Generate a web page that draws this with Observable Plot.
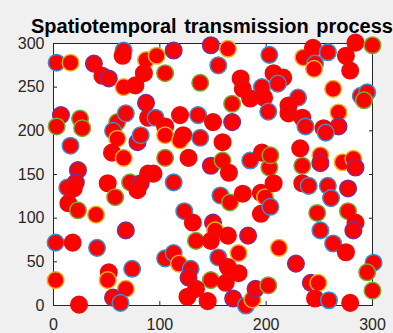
<!DOCTYPE html>
<html><head><meta charset="utf-8">
<script src="https://cdn.jsdelivr.net/npm/d3@7"></script>
<script src="https://cdn.jsdelivr.net/npm/@observablehq/plot@0.6"></script>
<style>
html,body{margin:0;padding:0;background:#f0f0f0;overflow:hidden;width:393px;height:333px;}
#wrap{position:relative;width:393px;height:333px;}
#title{position:absolute;left:31px;top:16px;white-space:nowrap;font:bold 20px "Liberation Sans",Arial,sans-serif;word-spacing:2px;color:#000;line-height:20px;}
#chart{position:absolute;left:0;top:0;}
</style></head><body>
<div id="wrap"><div id="chart"></div><div id="title">Spatiotemporal transmission process</div></div>
<script>
const titleText = "Spatiotemporal transmission process";
const xTicks = [0, 100, 200, 300];
const yTicks = [0, 50, 100, 150, 200, 250, 300];
const xValues = [3,16,38,66,65,46,52,66,77,87,97,85,7,3,25,27,60,68,87,89,113,148,164,155,105,138,176,178,196,203,168,185,198,202,96,119,136,150,168,105,235,244,258,275,284,300,246,245,279,207,216,211,263,230,221,289,295,292,221,234,237,268,268,254,16,56,60,55,66,79,82,23,13,21,19,14,23,40,51,58,72,82,79,89,105,119,122,138,159,105,127,148,159,165,185,196,203,94,113,157,166,178,195,199,123,131,150,195,204,256,204,232,234,251,251,272,282,284,207,234,240,258,277,261,248,277,284,68,2,18,41,52,51,74,2,68,56,63,24,152,164,183,134,148,105,113,118,155,174,129,127,148,162,174,164,126,134,145,169,181,187,190,202,282,251,263,275,212,228,301,295,242,249,300,246,259,279];
const yValues = [278,278,277,292,286,263,260,250,252,281,286,266,218,205,214,203,210,220,232,215,292,298,294,275,266,255,260,248,250,287,231,237,238,222,215,218,218,210,210,205,284,295,290,286,301,298,277,271,269,266,261,254,248,238,229,240,244,235,220,215,205,221,205,203,183,200,191,175,169,187,195,155,135,141,134,117,109,104,140,124,141,140,132,151,195,189,195,192,187,169,169,160,166,152,166,175,158,151,141,126,118,128,129,124,108,95,95,105,113,198,172,180,160,172,163,164,168,158,140,140,137,137,134,123,106,108,95,86,72,72,66,38,29,42,29,19,9,3,1,86,80,80,74,74,54,60,48,55,60,42,32,29,26,37,44,10,19,5,8,0,7,19,23,86,86,71,61,66,48,49,38,26,26,17,8,6,3];
const edgeGroup = [
  "b","y","p","b","n","n","p","y","n","y",
  "y","n","p","g","g","g","g","b","p","n",
  "p","p","y","b","g","g","n","n","b","b",
  "g","n","n","b","b","n","b","n","p","n",
  "y","n","b","n","n","g","b","y","n","n",
  "n","b","y","b","n","b","b","g","n","n",
  "b","y","p","n","b","b","y","n","y","p",
  "b","p","b","p","n","n","g","y","n","g",
  "g","p","n","n","y","y","n","b","n","g",
  "n","p","g","n","b","n","g","n","b","b",
  "g","n","n","y","b","n","p","n","b","b",
  "g","n","g","y","p","y","y","p","n","n",
  "b","b","p","b","g","g","n","p","b","n",
  "b","n","y","b","y","y","p","b","n","y",
  "n","p","g","n","b","b","y","b","y","b",
  "p","g","n","n","n","n","n","n","p","b",
  "y","p","g","p","b","b","n","y","p","b",
  "g","p","y","g","n","b","n"
];
const edgeColors = {b: "#3b8fd4", y: "#EDB120", p: "#7E2F8E", g: "#77AC30", n: "#e41010"};

const points = xValues.map((x, i) => ({x, y: yValues[i], e: edgeGroup[i] || "n"}));

const chart = Plot.plot({
  width: 393, height: 333,
  marginTop: 43, marginBottom: 28, marginLeft: 53, marginRight: 21,
  x: {domain: [0, 300]},
  y: {domain: [0, 300]},
  style: {background: "transparent", color: "#262626", fontFamily: "'Liberation Sans', Arial, sans-serif", fontSize: "16px"},
  marks: [
    Plot.frame({fill: "white", stroke: null}),
    Plot.axisX(xTicks, {anchor: "bottom", tickSize: -4, tickPadding: 17, label: null}),
    Plot.axisX(xTicks, {anchor: "top", tickSize: -4, tickFormat: () => "", label: null}),
    Plot.axisY(yTicks, {anchor: "left", tickSize: -4, tickPadding: 13, label: null}),
    Plot.axisY(yTicks, {anchor: "right", tickSize: -4, tickFormat: () => "", label: null}),
    Plot.frame({stroke: "#262626", strokeWidth: 1}),
    Plot.dot(points, {x: "x", y: "y", r: 8.3, fill: "#ff0000", stroke: d => edgeColors[d.e], strokeWidth: 1.5})
  ]
});
document.getElementById("chart").appendChild(chart);
</script>
</body></html>
